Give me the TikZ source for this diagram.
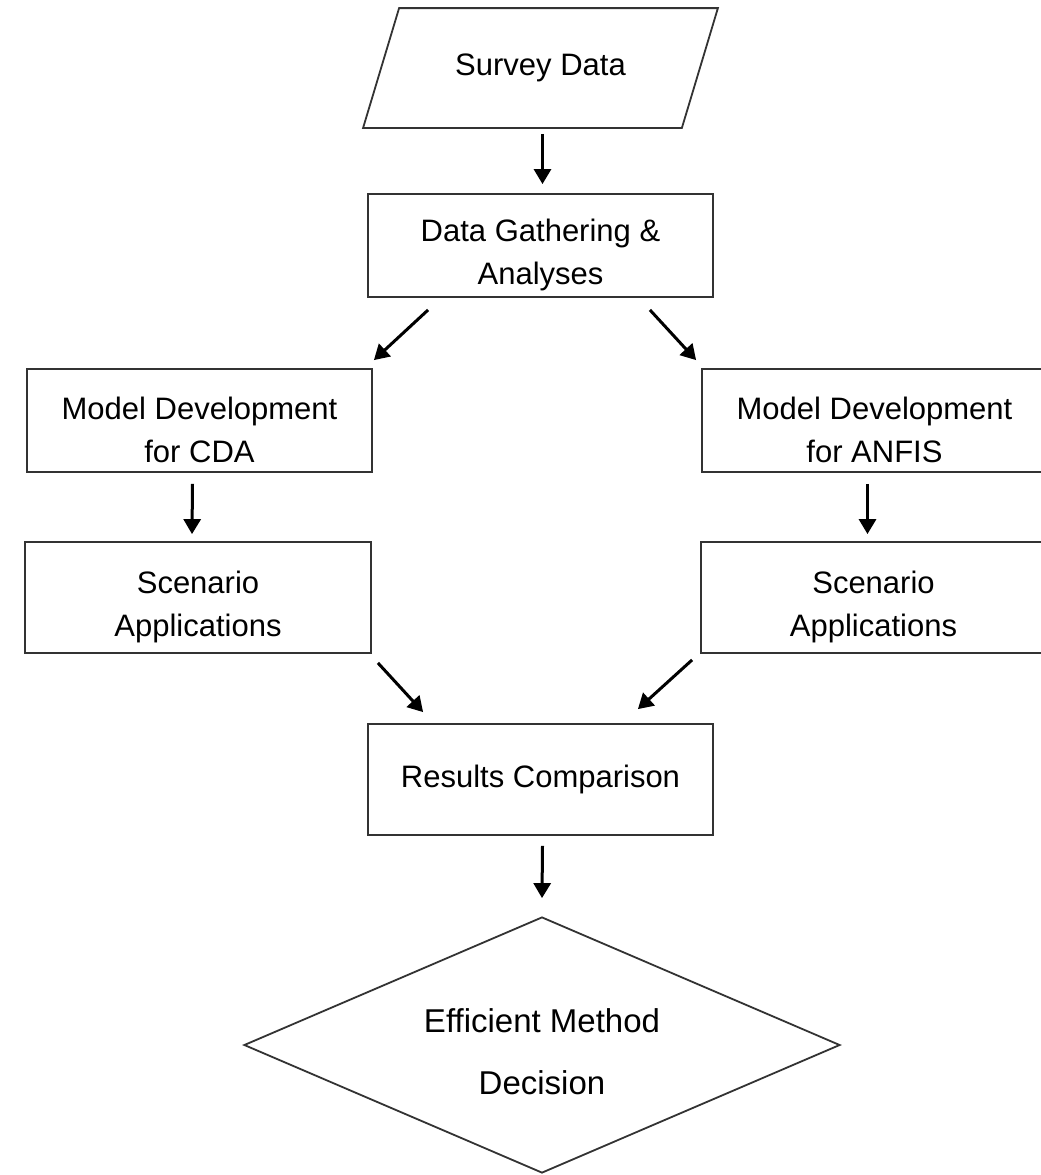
\documentclass[tikz,border=0pt]{standalone}
\usepackage{fontspec}
\setmainfont{Liberation Sans}
\usetikzlibrary{shapes.geometric,arrows.meta}
\newcommand{\tallstrut}{\rule{0pt}{41pt}}

\begin{document}
\begin{tikzpicture}[x=1pt,y=-1pt,
  box/.style={draw=black!80,line width=1.8pt,align=center,inner sep=0pt,
    font=\fontsize{31}{43}\selectfont},
  arr/.style={line width=3pt,-{Triangle[length=15pt,width=17pt]}}]
  \useasboundingbox (0,0) rectangle (1041,1175);
  \node (0) at (540.5,68) [box,draw=none,minimum width=317pt,minimum height=118pt] {Survey Data};
  \draw[draw=black!80,line width=1.8pt] ([xshift=18pt]0.north west) -- ([xshift=18pt]0.north east)
    -- ([xshift=-18pt]0.south east) -- ([xshift=-18pt]0.south west) -- cycle;
  \node (1) at (540.5,245.5) [box,minimum width=345pt,minimum height=103pt] {\tallstrut Data Gathering \&\\Analyses};
  \node (2) at (199.5,420.5) [box,minimum width=345pt,minimum height=103pt] {\tallstrut Model Development\\for CDA};
  \node (3) at (874.5,420.5) [box,minimum width=345pt,minimum height=103pt] {\tallstrut Model Development\\for ANFIS};
  \node (4) at (198,597.5) [box,minimum width=346pt,minimum height=111pt] {\tallstrut Scenario\\Applications};
  \node (5) at (873.5,597.5) [box,minimum width=345pt,minimum height=111pt] {\tallstrut Scenario\\Applications};
  \node (6) at (540.5,779.5) [box,minimum width=345pt,minimum height=111pt] {Results Comparison};
  \node (7) at (542,1045) [box,diamond,aspect=2.33,minimum width=596pt,minimum height=256pt,
    font=\fontsize{33}{62}\selectfont] {\rule{0pt}{38pt}Efficient Method\\Decision};
  \draw[arr] ([xshift=2pt,yshift=-6pt]0.south) -- ([xshift=2pt,yshift=9pt]1.north);
  \draw[arr] ([xshift=61pt,yshift=-12pt]1.south west) -- ([xshift=1pt,yshift=8pt]2.north east);
  \draw[arr] ([xshift=-64pt,yshift=-12pt]1.south east) -- ([xshift=-5pt,yshift=8pt]3.north west);
  \draw[arr] ([xshift=-7pt,yshift=-11pt]2.south) -- ([xshift=-6pt,yshift=7pt]4.north);
  \draw[arr] ([xshift=-7pt,yshift=-11pt]3.south) -- ([xshift=-6pt,yshift=7pt]5.north);
  \draw[arr] ([xshift=6pt,yshift=-9pt]4.south east) -- ([xshift=56pt,yshift=11pt]6.north west);
  \draw[arr] ([xshift=-8pt,yshift=-6pt]5.south west) -- ([xshift=-76pt,yshift=14pt]6.north east);
  \draw[arr] ([xshift=2pt,yshift=-10pt]6.south) -- ([yshift=18pt]7.north);
\end{tikzpicture}
\end{document}
